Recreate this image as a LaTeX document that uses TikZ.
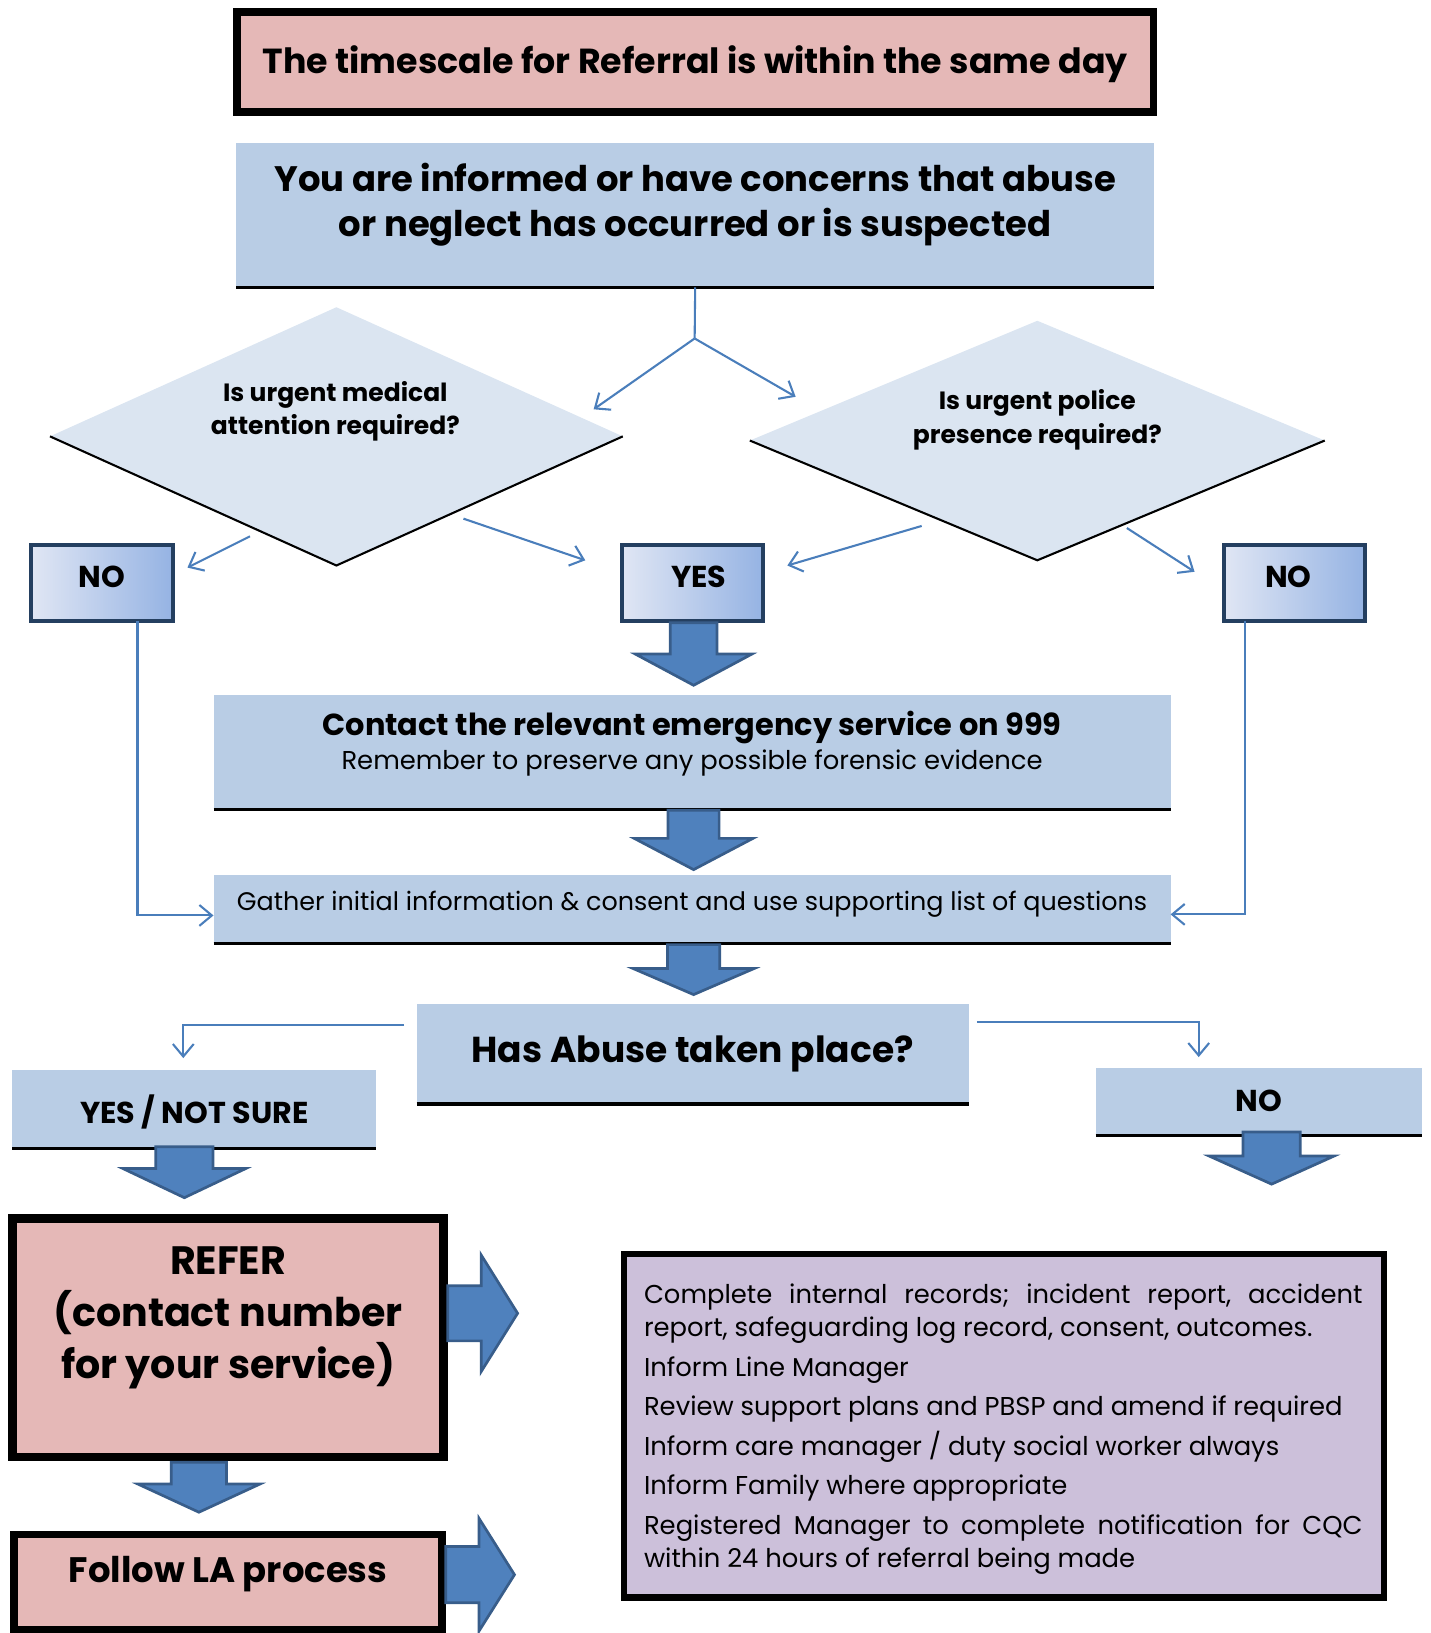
\documentclass[tikz,border=0pt]{standalone}
\usepackage{fontspec}
\setmainfont{Poppins}
\usetikzlibrary{arrows.meta,shapes.geometric}
\definecolor{pinkF}{HTML}{E5B8B7}
\definecolor{blueF}{HTML}{B9CDE5}
\definecolor{diaF}{HTML}{DBE5F1}
\definecolor{purpF}{HTML}{CCC0DA}
\definecolor{navyB}{HTML}{243F60}
\definecolor{arrowF}{HTML}{4F81BD}
\definecolor{arrowE}{HTML}{385D8A}
\definecolor{lineB}{HTML}{4A7EBB}
\definecolor{gradL}{HTML}{E0E6F4}
\definecolor{gradR}{HTML}{95B3E3}
\frenchspacing
\newcommand\blkdown[6]{\draw[blockarrow] ({#1-#3},#2) -- ({#1+#3},#2) -- ({#1+#3},#4) -- ({#1+#5},#4) -- (#1,#6) -- ({#1-#5},#4) -- ({#1-#3},#4) -- cycle;}
\newcommand\blkright[6]{\draw[blockarrow] (#1,{#2-#3}) -- (#1,{#2+#3}) -- (#4,{#2+#3}) -- (#4,{#2+#5}) -- (#6,#2) -- (#4,{#2-#5}) -- (#4,{#2-#3}) -- cycle;}
\begin{document}
\begin{tikzpicture}[x=0.5pt,y=-0.5pt,
  box/.style={rectangle, inner sep=0pt, outer sep=0pt},
  bluebox/.style={box, fill=blueF},
  thickbox/.style={box, draw=black, fill=pinkF},
  ynbox/.style={box, draw=navyB, line width=2pt, left color=gradL, right color=gradR},
  underline/.style={line width=1.5pt, black},
  flow/.style={draw=lineB, line width=1pt},
  conn/.style={flow, -{Straight Barb[length=6pt,width=10pt]}},
  blockarrow/.style={fill=arrowF, draw=arrowE, line width=1.3pt, line join=miter},
  dia/.style={diamond, fill=diaF, inner sep=0pt, outer sep=0pt, aspect=2.2},
  fYN/.style={font=\fontsize{14.5}{17}\selectfont\bfseries},
  fDia/.style={font=\fontsize{12}{16}\selectfont\bfseries, align=center},
]
\useasboundingbox (0,0) rectangle (1374,1568);

% title
\node[thickbox, line width=3.5pt, minimum width=440pt, minimum height=48pt,
  label={[font=\fontsize{16.7}{20}\selectfont\bfseries, yshift=-1pt]center:The timescale for Referral is within the same day}] (title) at (667.5,59.5) {};

% informed box
\node[bluebox, minimum width=440.5pt, minimum height=69.5pt,
  label={[font=\fontsize{17}{21.5}\selectfont\bfseries, align=center, yshift=5pt]center:{You are informed or have concerns that abuse\\or neglect has occurred or is suspected}}] (b1) at (667.5,206.5) {};
\draw[underline] (b1.south west) -- (b1.south east);

% diamonds
\node[dia, minimum width=275pt, minimum height=124pt] (d1) at (323,419) {};
\draw[line width=1pt] (d1.west) -- (d1.south) -- (d1.east);
\node[fDia] (d1t) at (322,395) {Is urgent medical\\attention required?};
\node[dia, minimum width=276pt, minimum height=115pt] (d2) at (996,423) {};
\draw[line width=1pt] (d2.west) -- (d2.south) -- (d2.east);
\node[fDia] (d2t) at (996,403) {Is urgent police\\presence required?};

% YES / NO boxes
\node[ynbox, minimum width=68pt, minimum height=36.5pt, label={[fYN, yshift=3pt]center:NO}] (no1) at (98,559.5) {};
\node[ynbox, minimum width=68pt, minimum height=36.5pt, label={[fYN, yshift=3pt, xshift=3pt]center:YES}] (yes) at (665,559.5) {};
\node[ynbox, minimum width=68pt, minimum height=36.5pt, label={[fYN, yshift=3pt, xshift=-3pt]center:NO}] (no2) at (1243,559.5) {};

% connectors at top
\coordinate (split) at (667,325);
\coordinate (d1in) at (570,393);
\coordinate (d2in) at (764,381);
\draw[flow] (b1.south) -- (split);
\draw[conn] (split) -- (d1in);
\draw[conn] (split) -- (d2in);
\coordinate (d1out1) at (240,515);
\coordinate (d1out2) at (445,498);
\coordinate (d2out1) at (885,505);
\coordinate (d2out2) at (1082,507);
\draw[conn] (d1out1) -- ([xshift=7pt,yshift=-11pt]no1.north east);
\draw[conn] (d1out2) -- ([xshift=-17.5pt,yshift=-7.5pt]yes.north west);
\draw[conn] (d2out1) -- ([xshift=11.5pt,yshift=-10pt]yes.north east);
\draw[conn] (d2out2) -- ([xshift=-14pt,yshift=-13pt]no2.north west);

% emergency box
\node[bluebox, minimum width=459.5pt, minimum height=55pt,
  label={[align=center, yshift=4pt]center:{{\fontsize{14.6}{17}\selectfont\bfseries Contact the relevant emergency service on 999}\\[2pt]{\fontsize{12.4}{15}\selectfont Remember to preserve any possible forensic evidence}}}] (em) at (664.5,722) {};
\draw[underline] (em.south west) -- (em.south east);

% gather box
\node[bluebox, minimum width=459.5pt, minimum height=33pt,
  label={[font=\fontsize{12.2}{14}\selectfont, yshift=2.5pt]center:{Gather initial information \& consent and use supporting list of questions}}] (gather) at (664.5,873) {};
\draw[underline] (gather.south west) -- (gather.south east);
\draw[conn] ([xshift=17pt]no1.south) |- ([yshift=-3pt]gather.west);
\draw[conn] ([xshift=-24pt]no2.south) |- ([yshift=-2.5pt]gather.east);

% has abuse
\node[bluebox, minimum width=265pt, minimum height=48pt,
  label={[font=\fontsize{17.3}{20}\selectfont\bfseries, yshift=0pt]center:Has Abuse taken place?}] (abuse) at (665,1012) {};
\draw[underline] (abuse.south west) -- (abuse.south east);

\node[bluebox, minimum width=174.5pt, minimum height=38pt,
  label={[fYN, yshift=-1.5pt]center:YES / NOT SURE}] (yns) at (186.5,1065) {};
\draw[underline] (yns.south west) -- (yns.south east);
\node[bluebox, fYN, minimum width=156.5pt, minimum height=32.5pt] (nol) at (1208.5,1057.5) {NO};
\draw[underline] (nol.south west) -- (nol.south east);

\draw[conn] ([xshift=-6pt,yshift=14pt]abuse.west) -| ([xshift=-5.25pt,yshift=5.5pt]yns.north);
\draw[conn] ([xshift=4pt,yshift=15.5pt]abuse.east) -| ([xshift=-28.75pt,yshift=5pt]nol.north);

% refer / follow
\node[thickbox, line width=4pt, minimum width=207pt, minimum height=114.5pt,
  label={[font=\fontsize{19}{25}\selectfont\bfseries, align=center, yshift=9.5pt]center:{REFER\\(contact number\\for your service)}}] (refer) at (219,1284.5) {};
\node[thickbox, line width=3.5pt, minimum width=205.5pt, minimum height=45.5pt,
  label={[font=\fontsize{17}{20}\selectfont\bfseries, yshift=4pt]center:Follow LA process}] (follow) at (219,1519) {};

% purple box
\node[box, draw=black, fill=purpF, line width=3pt, minimum width=365pt, minimum height=165pt] (purple) at (964,1369) {};
\node[anchor=north west, align=left, inner sep=0pt, font=\fontsize{12.4}{16}\selectfont] (ptext) at ([xshift=9.5pt,yshift=-14pt]purple.north west)
{\makebox[345pt][s]{Complete internal records; incident report, accident}\\
report, safeguarding log record, consent, outcomes.\\[3pt]
Inform Line Manager\\[3pt]
Review support plans and PBSP and amend if required\\[3pt]
Inform care manager / duty social worker always\\[3pt]
Inform Family where appropriate\\[3pt]
\makebox[345pt][s]{Registered Manager to complete notification for CQC}\\
within 24 hours of referral being made};

% block arrows
\blkdown{666}{598}{22.5}{628}{56}{658}
\blkdown{666}{778}{24.5}{805}{57}{835}
\blkdown{666}{907}{25}{930}{58}{955}
\blkdown{177}{1101}{27.5}{1122}{59}{1150}
\blkdown{1221}{1087}{27.5}{1110}{60}{1137}
\blkdown{191}{1404}{26.5}{1425}{58.5}{1452}
\blkright{430}{1261}{26.5}{462}{56}{497}
\blkright{428}{1512}{27}{460}{54}{494}
\end{tikzpicture}
\end{document}
